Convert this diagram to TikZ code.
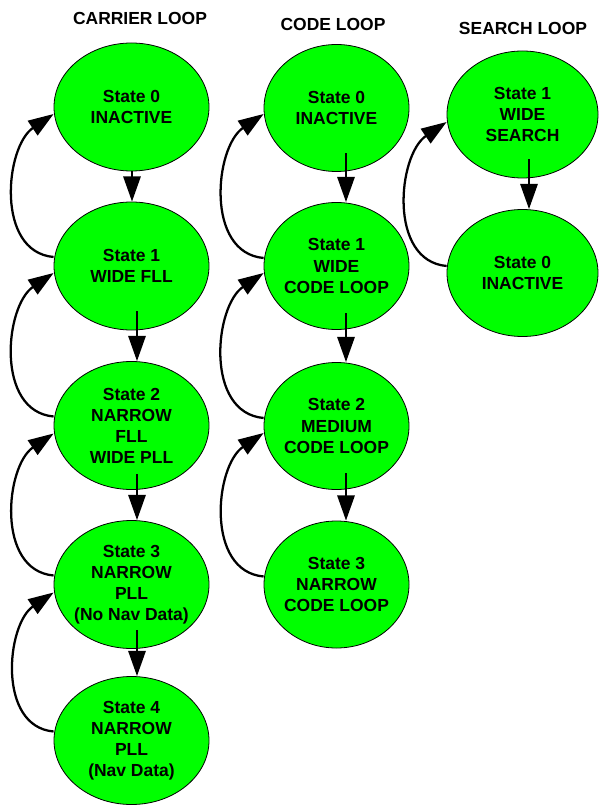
\documentclass[tikz,border=0pt]{standalone}
\usepackage{fontspec}
\setmainfont{Liberation Sans}
\usetikzlibrary{shapes.geometric,arrows.meta}
\definecolor{lgreen}{RGB}{0,255,0}
\tikzset{
  state/.style={ellipse, draw=black, line width=0.6pt, fill=lgreen, inner sep=0pt},
  carrier/.style={state, minimum width=155*0.75pt, minimum height=128*0.75pt},
  codest/.style={state, minimum width=145*0.75pt, minimum height=127*0.75pt},
  searchst/.style={state, minimum width=151*0.75pt, minimum height=127*0.75pt},
  lbl/.style={align=center, font=\bfseries\fontsize{13.1}{15.8}\selectfont},
  ttl/.style={anchor=base, font=\bfseries\fontsize{13.1}{15.8}\selectfont},
  arr/.style={line width=1.7pt, -{Triangle[length=19pt,width=13pt]}},
  back/.style={arr, out=175, in=214, looseness=1.05}
}
\begin{document}
\begin{tikzpicture}[x=0.75pt,y=0.75pt]
\useasboundingbox (0,0) rectangle (603,-805);
% titles
\node[ttl] (t1) at (140,-25) {CARRIER LOOP};
\node[ttl] (t2) at (333,-30.7) {CODE LOOP};
\node[ttl] (t3) at (523,-35) {SEARCH LOOP};
% carrier loop
\node[carrier, label={[lbl]center:{State 0\\INACTIVE}}] (a0) at (131.5,-107) {};
\node[carrier, label={[lbl]center:{State 1\\WIDE FLL}}] (a1) at (131.5,-266) {};
\node[carrier, label={[lbl]center:{State 2\\NARROW\\FLL\\WIDE PLL}}] (a2) at (131.5,-425.5) {};
\node[carrier, label={[lbl]center:{State 3\\NARROW\\PLL\\(No Nav Data)}}] (a3) at (131.5,-584.5) {};
\node[carrier, label={[lbl]center:{State 4\\NARROW\\PLL\\(Nav Data)}}] (a4) at (131.5,-740.5) {};
% code loop
\node[codest, label={[lbl]center:{State 0\\INACTIVE}}] (b0) at (336.5,-108) {};
\node[codest, label={[lbl]center:{State 1\\WIDE\\CODE LOOP}}] (b1) at (336.5,-266) {};
\node[codest, label={[lbl]center:{State 2\\MEDIUM\\CODE LOOP}}] (b2) at (336.5,-426) {};
\node[codest, label={[lbl]center:{State 3\\NARROW\\CODE LOOP}}] (b3) at (336.5,-584.5) {};
% search loop
\node[searchst, label={[lbl]center:{State 1\\WIDE\\SEARCH}}] (c1) at (522.5,-114.5) {};
\node[searchst, label={[lbl]center:{State 0\\INACTIVE}}] (c0) at (522.5,-273) {};
% forward arrows (carrier)
\draw[arr] ([shift={(0.5,0)}]a0.south) coordinate (p01) -- (p01 |- a1.north);
\draw[arr] ([shift={(5.5,19)}]a1.south) coordinate (p12) -- (p12 |- a2.north);
\draw[arr] ([shift={(5.5,16)}]a2.south) coordinate (p23) -- (p23 |- a3.north);
\draw[arr] ([shift={(5.5,19)}]a3.south) coordinate (p34) -- (p34 |- a4.north);
% forward arrows (code)
\draw[arr] ([shift={(9.5,18.5)}]b0.south) coordinate (q01) -- (q01 |- b1.north);
\draw[arr] ([shift={(9.5,16.5)}]b1.south) coordinate (q12) -- (q12 |- b2.north);
\draw[arr] ([shift={(9.5,16.5)}]b2.south) coordinate (q23) -- (q23 |- b3.north);
% forward arrow (search)
\draw[arr] ([shift={(6.5,19)}]c1.south) coordinate (r10) -- (r10 |- c0.north);
% back arrows (carrier)
\draw[back] ([shift={(0,9)}]a1.west) to ([shift={(0,-7)}]a0.west);
\draw[back] ([shift={(0,9)}]a2.west) to ([shift={(0,-7)}]a1.west);
\draw[back] ([shift={(0,9)}]a3.west) to ([shift={(0,-8)}]a2.west);
\draw[back] ([shift={(0,9)}]a4.west) to ([shift={(0,-8)}]a3.west);
% back arrows (code)
\draw[back] ([shift={(0,8)}]b1.west) to ([shift={(0,-6)}]b0.west);
\draw[back] ([shift={(0,8)}]b2.west) to ([shift={(0,-7)}]b1.west);
\draw[back] ([shift={(0,8)}]b3.west) to ([shift={(0,-7)}]b2.west);
% back arrow (search)
\draw[back] ([shift={(0,7)}]c0.west) to ([shift={(0,-7.5)}]c1.west);
\end{tikzpicture}
\end{document}
